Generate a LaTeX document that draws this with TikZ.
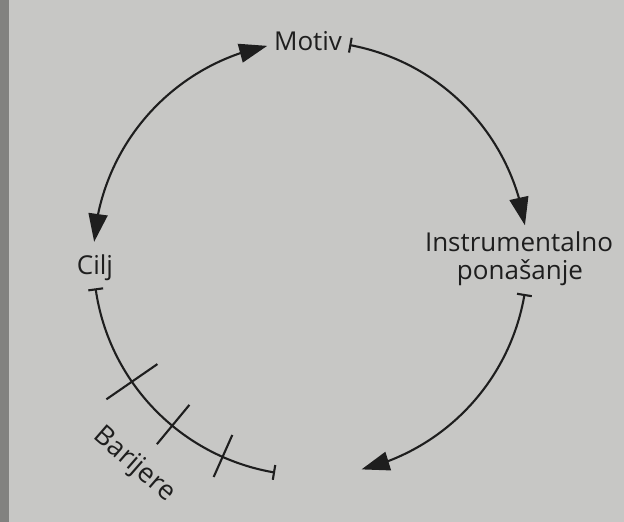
\documentclass[tikz,border=0pt]{standalone}
\usepackage{fontspec}
\setmainfont{Open Sans}
\usetikzlibrary{arrows.meta,calc,bending}
\definecolor{bg}{RGB}{199,199,197}
\definecolor{edge}{RGB}{130,130,128}
\definecolor{ink}{RGB}{30,30,30}
\tikzset{
  tri/.tip={Triangle[length=28pt,width=19pt]},
  barend/.tip={Bar[width=15pt]}
}
\begin{document}
\begin{tikzpicture}[x=1pt,y=1pt,
  lbl/.style={font=\fontsize{26}{30}\selectfont, text=ink, inner sep=0pt, anchor=base},
  arcline/.style={draw=ink, line width=2.1pt},
  tickline/.style={draw=ink, line width=2.1pt}
]
\fill[bg] (0,0) rectangle (624,522);
\fill[edge] (0,0) rectangle (9,522);
\useasboundingbox (0,0) rectangle (624,522);

\coordinate (C) at (310.5,263.5);
\def\R{217}

% labels
\node[lbl] (motiv) at (308,471) {Motiv};
\node[lbl] (instr) at (519,270) {Instrumentalno};
\node[lbl] (pon) at (520,242) {ponašanje};
\node[lbl] (cilj) at (95,247) {Cilj};
\node[lbl, font=\fontsize{27}{30}\selectfont, anchor=center, rotate=-41] (barijere) at (134,57) {Barijere};

% arc end points
\coordinate (mbar) at ($(C)+(79.7:\R)$);
\coordinate (ctip) at ($(C)+(175.6:\R)$);
\coordinate (cbar) at ($(C)+(187.9:\R)$);
\coordinate (ibar) at ($(C)+(350.6:\R)$);

% Motiv -> Instrumentalno ponasanje
\draw[arcline, arrows={[flex]barend-tri}] (mbar) arc[start angle=79.7, end angle=8.8, radius=\R];
% Instrumentalno ponasanje -> bottom
\draw[arcline, arrows={[flex]barend-tri}] (ibar) arc[start angle=-9.4, end angle=-76.4, radius=\R];
% Cilj <-> Motiv
\draw[arcline, arrows={[flex]tri-tri}] (ctip) arc[start angle=175.6, end angle=101.5, radius=\R];
% Cilj -> barriers
\draw[arcline, arrows={barend-barend}] (cbar) arc[start angle=187.9, end angle=260.6, radius=\R];

% barrier ticks
\draw[tickline] ($(C)+(214.6:186)$) -- ($(C)+(214.6:248)$);
\draw[tickline] ($(C)+(230.4:190)$) -- ($(C)+(230.4:241)$);
\draw[tickline] ($(C)+(246.1:193)$) -- ($(C)+(246.1:239)$);
\end{tikzpicture}
\end{document}
